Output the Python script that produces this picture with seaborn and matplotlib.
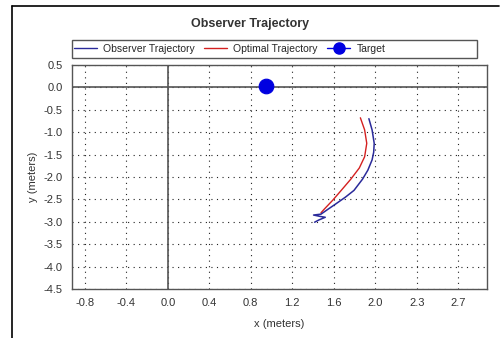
import matplotlib
matplotlib.use("Agg")
import matplotlib.pyplot as plt
from matplotlib.lines import Line2D
from matplotlib.patches import Rectangle
import seaborn as sns
import pandas as pd

# Observer path (measured) and optimal path, in metres
obs_x = [1.89, 1.92, 1.94, 1.935, 1.92, 1.88, 1.83, 1.75, 1.67, 1.58, 1.50, 1.44,
         1.37, 1.43, 1.48, 1.42, 1.38]
obs_y = [-0.70, -0.95, -1.25, -1.45, -1.62, -1.85, -2.05, -2.30, -2.45, -2.60, -2.73, -2.83,
         -2.85, -2.88, -2.90, -2.96, -3.01]
opt_x = [1.81, 1.85, 1.87, 1.85, 1.80, 1.72, 1.63, 1.55, 1.47, 1.44]
opt_y = [-0.68, -0.95, -1.25, -1.55, -1.80, -2.05, -2.30, -2.52, -2.72, -2.80]
target_x = [0.92]
target_y = [0.02]

x_ticks = [k * 0.39 for k in range(-2, 8)]
x_labels = ["-0.8", "-0.4", "0.0", "0.4", "0.8", "1.2", "1.6", "2.0", "2.3", "2.7"]
y_ticks = [0.5, 0.0, -0.5, -1.0, -1.5, -2.0, -2.5, -3.0, -3.5, -4.0, -4.5]
y_labels = ["0.5", "0.0", "-0.5", "-1.0", "-1.5", "-2.0", "-2.5", "-3.0", "-3.5", "-4.0", "-4.5"]

sns.set_theme(style="white")
plt.rcParams["font.family"] = ["Liberation Sans", "DejaVu Sans"]

obs_color = "#2a2a9a"
opt_color = "#d42020"
tgt_color = "#0000e0"
axis_gray = "#555555"

fig = plt.figure(figsize=(5.0, 3.38), dpi=100)
fig.patch.set_facecolor("white")
ax = fig.add_axes([0.144, 0.145, 0.830, 0.663])

obs = pd.DataFrame({"x": obs_x, "y": obs_y})
opt = pd.DataFrame({"x": opt_x, "y": opt_y})
tgt = pd.DataFrame({"x": target_x, "y": target_y})

ax.axhline(0, color=axis_gray, lw=1.2, zorder=1)
ax.axvline(0, color=axis_gray, lw=1.2, zorder=1)

sns.lineplot(data=opt, x="x", y="y", sort=False, estimator=None, color=opt_color,
             lw=1.0, ax=ax, zorder=3)
sns.lineplot(data=obs, x="x", y="y", sort=False, estimator=None, color=obs_color,
             lw=1.1, ax=ax, zorder=4)
sns.scatterplot(data=tgt, x="x", y="y", color=tgt_color, s=110, edgecolor=tgt_color,
                ax=ax, zorder=5)

ax.set_xlim(-0.9, 3.0)
ax.set_ylim(-4.5, 0.5)
ax.set_xticks(x_ticks)
ax.set_xticklabels(x_labels)
ax.set_yticks(y_ticks)
ax.set_yticklabels(y_labels)
ax.grid(True, color="#222222", linestyle=(0, (1, 4)), lw=0.8)
ax.tick_params(direction="inout", length=7, width=1, color=axis_gray,
               labelsize=8, labelcolor="#333333", pad=3)
for sp in ax.spines.values():
    sp.set_color(axis_gray)
    sp.set_linewidth(1.0)
ax.set_xlabel("x (meters)", fontsize=8, color="#333333", labelpad=8)
ax.set_ylabel("y (meters)", fontsize=8, color="#333333", labelpad=4)

fig.text(0.5, 0.930, "Observer Trajectory", ha="center", va="center",
         fontsize=9, fontweight="bold", color="#333333")

# legend strip above the plot area
fig.patches.append(Rectangle((0.144, 0.828), 0.810, 0.053, transform=fig.transFigure,
                             fill=False, edgecolor=axis_gray, lw=1.0))
handles = [
    Line2D([], [], color=obs_color, lw=1.0),
    Line2D([], [], color=opt_color, lw=1.0),
    Line2D([], [], color=tgt_color, lw=1.0, marker="o", markersize=8),
]
fig.legend(handles, ["Observer Trajectory", "Optimal Trajectory", "Target"],
           loc="center left", bbox_to_anchor=(0.148, 0.855), ncol=3, frameon=False,
           fontsize=7.5, handlelength=2.2, handletextpad=0.6, columnspacing=0.9,
           borderaxespad=0, borderpad=0)

# outer frame edges
fig.add_artist(Line2D([0.024, 0.998], [0.982, 0.982], color="black", lw=1.2,
                      transform=fig.transFigure))
fig.add_artist(Line2D([0.024, 0.024], [0.0, 0.982], color="black", lw=1.2,
                      transform=fig.transFigure))

fig.savefig("out.png", dpi=100)
